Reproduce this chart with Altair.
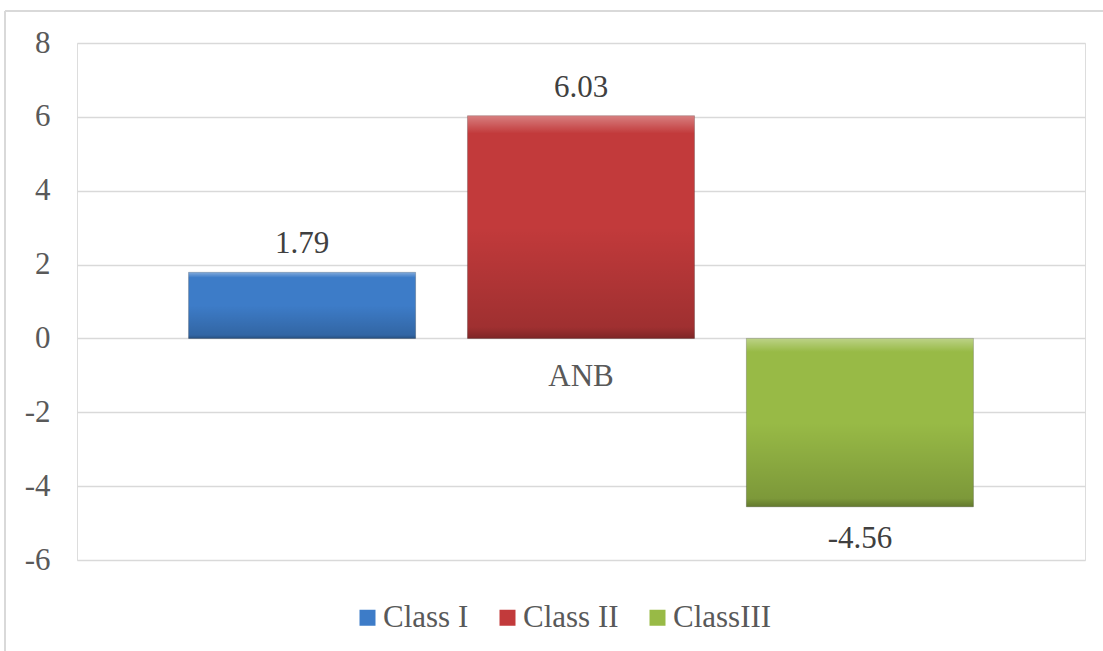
import altair as alt
import pandas as pd

categories = ["ANB"]
classes = ["Class I", "Class II", "ClassIII"]
values = [1.79, 6.03, -4.56]
y_ticks = [-6, -4, -2, 0, 2, 4, 6, 8]
colors = ["#3d7cc8", "#c23a3b", "#98ba46"]

df = pd.DataFrame({
    "cat": [categories[0]] * len(classes),
    "cls": classes,
    "val": values,
})

FONT = "Liberation Serif"
TXT = "#595959"
W, H = 1008, 517
zero_from_bottom = H * 6 / 14

base = alt.Chart(df).transform_calculate(
    lab="(datum.val < 0 ? '-' : '') + format(abs(datum.val), '.2f')"
).encode(
    x=alt.X(
        "cat:N",
        scale=alt.Scale(paddingInner=0, paddingOuter=0),
        axis=alt.Axis(
            title=None, orient="bottom", offset=-zero_from_bottom,
            domain=False, ticks=False, labelAngle=0, labelPadding=23,
            labelFontSize=31, labelFont=FONT, labelColor=TXT, grid=False,
        ),
    ),
    xOffset=alt.XOffset(
        "cls:N", sort=classes,
        scale=alt.Scale(paddingInner=0.186, paddingOuter=0.4),
    ),
    y=alt.Y(
        "val:Q",
        scale=alt.Scale(domain=[-6, 8], nice=False, zero=False),
        axis=alt.Axis(
            title=None, values=y_ticks, domain=False, ticks=False,
            labelExpr="(datum.value < 0 ? '-' : '') + abs(datum.value)",
            labelPadding=27, labelFontSize=31, labelFont=FONT,
            labelColor=TXT, gridColor="#d9d9d9", gridWidth=1.5,
        ),
    ),
)

bars = base.mark_bar(stroke="#2a2a2a", strokeOpacity=0.25, strokeWidth=1).encode(
    color=alt.Color(
        "cls:N", sort=classes,
        scale=alt.Scale(domain=classes, range=colors),
        legend=alt.Legend(
            title=None, orient="none", legendX=275, legendY=559,
            direction="horizontal",
            symbolType="square", symbolSize=256, symbolStrokeWidth=0,
            labelFontSize=31, labelFont=FONT, labelColor=TXT,
            columnPadding=23, labelOffset=0,
        ),
    )
)

shade = base.mark_bar(
    color=alt.Gradient(
        gradient="linear",
        stops=[
            alt.GradientStop(color="rgba(255,255,255,0.35)", offset=0),
            alt.GradientStop(color="rgba(255,255,255,0.0)", offset=0.08),
            alt.GradientStop(color="rgba(0,0,0,0.0)", offset=0.5),
            alt.GradientStop(color="rgba(0,0,0,0.18)", offset=0.95),
            alt.GradientStop(color="rgba(0,0,0,0.35)", offset=1),
        ],
        x1=0, x2=0, y1=0, y2=1,
    )
)

pos_text = base.transform_filter("datum.val >= 0").mark_text(
    baseline="alphabetic", dy=-19, fontSize=31, font=FONT, color="#404040"
).encode(text="lab:N")

neg_text = base.transform_filter("datum.val < 0").mark_text(
    baseline="alphabetic", dy=41, fontSize=31, font=FONT, color="#404040"
).encode(text="lab:N")

border_left = alt.Chart(df).mark_rule(color="#d9d9d9", strokeWidth=2).encode(
    x=alt.value(-72), y=alt.value(-32), y2=alt.value(620)
)
border_top = alt.Chart(df).mark_rule(color="#d9d9d9", strokeWidth=2).encode(
    x=alt.value(-72), x2=alt.value(1040), y=alt.value(-32)
)

chart = alt.layer(bars, shade, pos_text, neg_text, border_left, border_top).properties(
    width=W, height=H,
    autosize=alt.AutoSizeParams(type="none"),
    padding={"left": 77, "top": 43, "right": 18, "bottom": 91},
).configure_view(stroke=None).configure(background="white", font=FONT)

chart.save("out.html", embed_options={"renderer": "svg", "actions": False})
